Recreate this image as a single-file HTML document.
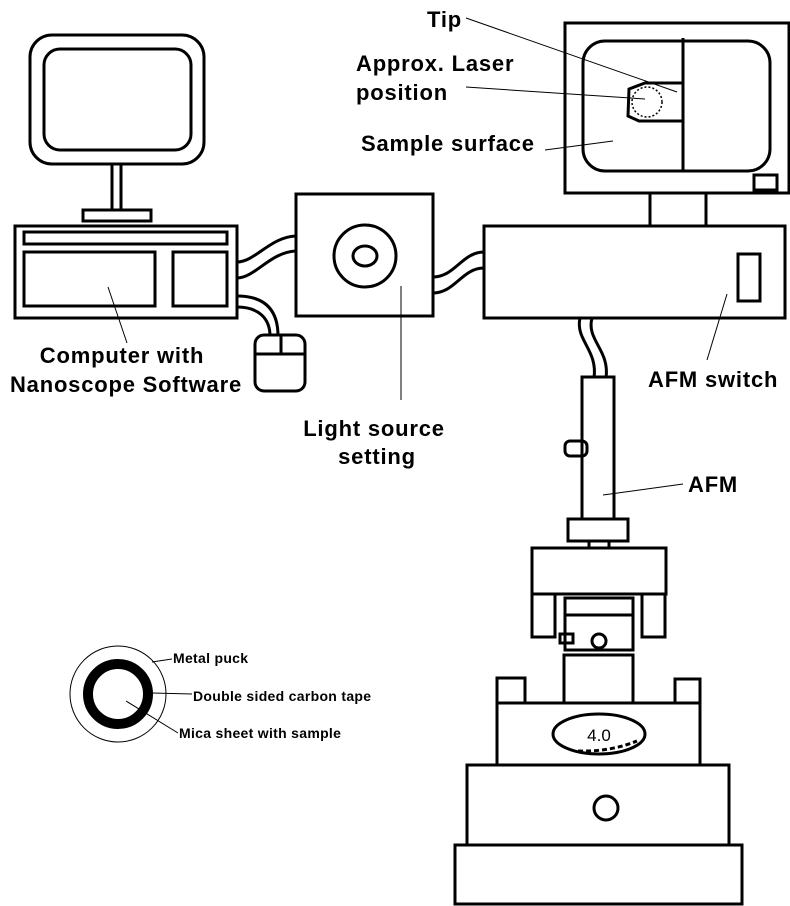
<!DOCTYPE html>
<html><head><meta charset="utf-8"><style>
html,body{margin:0;padding:0;background:#fff;}
svg{display:block;}
text{font-family:"Liberation Sans",Arial,sans-serif;font-weight:bold;fill:#000;}
.s{fill:none;stroke:#000;stroke-width:3;}
.t{fill:none;stroke:#000;stroke-width:1;}
</style></head><body>
<svg width="790" height="906" viewBox="0 0 790 906">
<g>
<rect class="s" x="30" y="35" width="174" height="129" rx="22"/>
<rect class="s" x="44" y="49" width="147" height="101" rx="16"/>
<rect class="s" x="112" y="164" width="9" height="46"/>
<rect class="s" x="83" y="210" width="68" height="11"/>
<rect class="s" x="15" y="226" width="222" height="92"/>
<rect class="s" x="24" y="232" width="203" height="12"/>
<rect class="s" x="24" y="252" width="131" height="54"/>
<rect class="s" x="173" y="252" width="54" height="54"/>
</g>
<g>
<path class="s" d="M237 262 C255 262 270 237 296 236"/>
<path class="s" d="M237 278 C255 278 270 252 296 251"/>
<path class="s" d="M237 296 C265 296 278 310 278 336"/>
<path class="s" d="M237 307 C258 307 270 318 270 336"/>
<path class="s" d="M433 277 C455 277 462 252 484 252"/>
<path class="s" d="M433 293 C455 293 462 268 484 268"/>
<path class="s" d="M580 318 C575 340 598 350 594 378"/>
<path class="s" d="M592 318 C586 340 610 350 606 378"/>
</g>
<g>
<rect class="s" x="255" y="335" width="50" height="56" rx="9"/>
<line class="s" x1="255" y1="354" x2="305" y2="354"/>
<line class="s" x1="281" y1="335" x2="281" y2="354"/>
</g>
<g>
<rect class="s" x="296" y="194" width="137" height="122"/>
<circle class="s" cx="365" cy="256" r="31"/>
<ellipse class="s" cx="365" cy="256" rx="12" ry="10"/>
</g>
<g>
<rect class="s" x="484" y="226" width="301" height="92"/>
<rect class="s" x="738" y="254" width="22" height="47"/>
<line class="s" x1="650" y1="193" x2="650" y2="226"/>
<line class="s" x1="706" y1="193" x2="706" y2="226"/>
</g>
<g>
<rect class="s" x="565" y="23" width="224" height="170"/>
<rect class="s" x="583" y="41" width="187" height="130" rx="22"/>
<line class="s" x1="683" y1="38" x2="683" y2="171"/>
<rect class="s" x="754" y="175" width="23" height="15"/>
<path class="s" d="M683 83 L645 83 L629 89 L628 116 L639 121 L683 121"/>
<circle cx="647" cy="102" r="15" fill="none" stroke="#000" stroke-width="1.5" stroke-dasharray="2 2"/>
</g>
<g>
<rect class="s" x="582" y="377" width="32" height="142"/>
<rect class="s" x="565" y="441" width="22" height="15" rx="5"/>
<rect class="s" x="568" y="519" width="60" height="22"/>
<line class="s" x1="589" y1="541" x2="589" y2="548"/>
<line class="s" x1="609" y1="541" x2="609" y2="548"/>
<rect class="s" x="532" y="548" width="134" height="46"/>
<rect class="s" x="532" y="594" width="23" height="43"/>
<rect class="s" x="642" y="594" width="23" height="43"/>
<rect class="s" x="565" y="598" width="68" height="52"/>
<line class="s" x1="565" y1="615" x2="633" y2="615"/>
<rect class="s" x="560" y="634" width="13" height="9"/>
<circle class="s" cx="599" cy="641" r="7"/>
<rect class="s" x="564" y="655" width="69" height="48"/>
<rect class="s" x="497" y="678" width="28" height="25"/>
<rect class="s" x="675" y="679" width="25" height="24"/>
<rect class="s" x="497" y="703" width="203" height="62"/>
<ellipse class="s" cx="599" cy="734" rx="46" ry="20"/>
<path d="M578 751 Q610 752 637 741" fill="none" stroke="#000" stroke-width="3" stroke-dasharray="5 3"/>
<text x="599" y="741" font-size="17" text-anchor="middle" style="font-weight:normal">4.0</text>
<rect class="s" x="467" y="765" width="262" height="80"/>
<circle class="s" cx="606" cy="808" r="12"/>
<rect class="s" x="455" y="845" width="287" height="59"/>
</g>
<g>
<circle cx="118" cy="694" r="48" fill="none" stroke="#000" stroke-width="1"/>
<circle cx="118" cy="694" r="30" fill="none" stroke="#000" stroke-width="10"/>
<line class="t" x1="152" y1="662" x2="172" y2="659"/>
<line class="t" x1="152" y1="693" x2="192" y2="694"/>
<line class="t" x1="126" y1="701" x2="178" y2="733"/>
<g font-size="14" style="letter-spacing:0.3px">
<text x="173" y="663">Metal puck</text>
<text x="193" y="701">Double sided carbon tape</text>
<text x="179" y="738">Mica sheet with sample</text>
</g>
</g>
<g>
<line class="t" x1="466" y1="18" x2="677" y2="92"/>
<line class="t" x1="466" y1="87" x2="645" y2="99"/>
<line class="t" x1="545" y1="150" x2="613" y2="141"/>
<line class="t" x1="108" y1="287" x2="127" y2="343"/>
<line class="t" x1="401" y1="286" x2="401" y2="400"/>
<line class="t" x1="727" y1="294" x2="707" y2="360"/>
<line class="t" x1="603" y1="495" x2="683" y2="484"/>
</g>
<g font-size="22" style="letter-spacing:0.8px">
<text x="427" y="27">Tip</text>
<text x="356" y="71">Approx. Laser</text>
<text x="356" y="100">position</text>
<text x="361" y="151">Sample surface</text>
<text x="122" y="363" text-anchor="middle">Computer with</text>
<text x="126" y="392" text-anchor="middle">Nanoscope Software</text>
<text x="374" y="436" text-anchor="middle">Light source</text>
<text x="377" y="464" text-anchor="middle">setting</text>
<text x="648" y="387">AFM switch</text>
<text x="688" y="492">AFM</text>
</g>
</svg>
</body></html>
